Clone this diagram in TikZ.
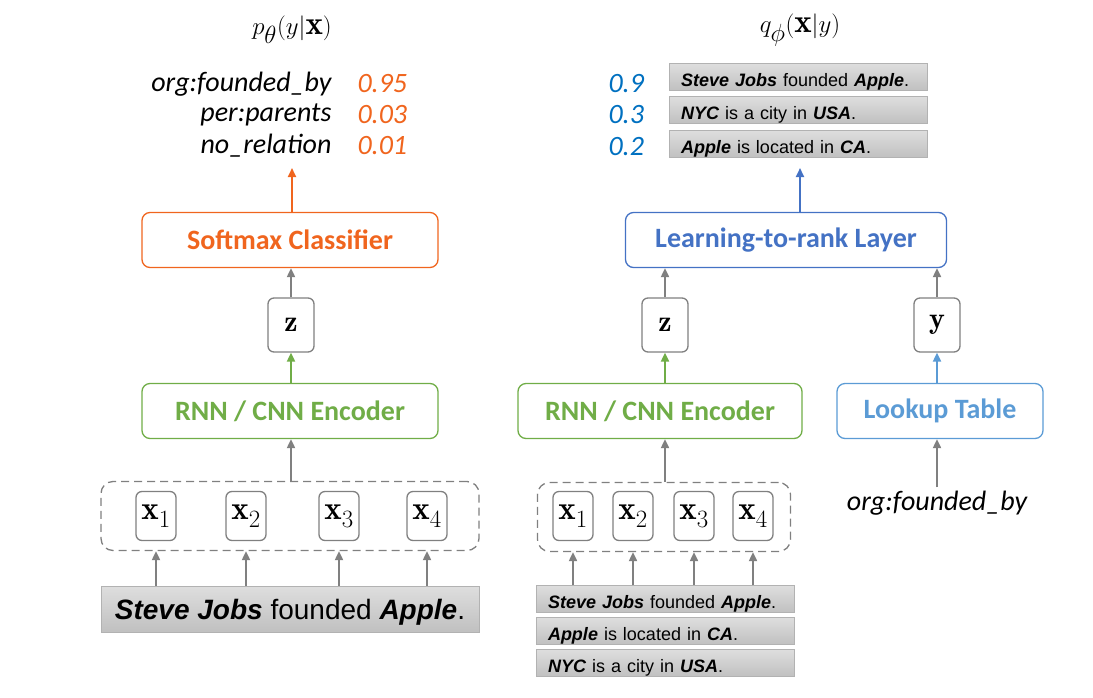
\documentclass[tikz,border=0pt]{standalone}
\usepackage{amsmath,amssymb}
\usepackage{fontspec}
\usepackage{xcolor}
\usepackage{tikz}
\usetikzlibrary{arrows.meta,positioning,calc}

\newfontfamily\calib{Carlito}
\newfontfamily\arialf{Liberation Sans}
\newcommand{\kw}[1]{\textbf{\textit{#1}}}

\definecolor{softorange}{RGB}{240,101,30}
\definecolor{encgreen}{RGB}{112,173,71}
\definecolor{rankblue}{RGB}{68,114,196}
\definecolor{lookblue}{RGB}{91,155,213}
\definecolor{scoreblue}{RGB}{0,112,192}
\definecolor{arrgray}{RGB}{128,128,128}
\definecolor{senttop}{RGB}{222,222,222}
\definecolor{sentbot}{RGB}{192,192,192}

\begin{document}
\begin{tikzpicture}[
  x=1pt, y=-1pt,
  box/.style={draw, rounded corners=8pt, line width=1.3pt, minimum height=55pt,
    font=\calib\bfseries\fontsize{28}{30}\selectfont},
  clsbox/.style={box, draw=softorange, text=softorange},
  encbox/.style={box, draw=encgreen, text=encgreen},
  rankbox/.style={box, draw=rankblue, text=rankblue},
  lookbox/.style={box, draw=lookblue, text=lookblue},
  vecbox/.style={draw=arrgray, rounded corners=6pt, line width=1.3pt, inner sep=0pt,
    minimum width=46pt, minimum height=54pt, font=\fontsize{30}{32}\selectfont},
  xbox/.style={vecbox, minimum width=40pt, minimum height=49pt, font=\fontsize{33}{35}\selectfont},
  group/.style={draw=arrgray, dash pattern=on 8pt off 5pt, line width=1.3pt,
    rounded corners=12pt, minimum height=69pt},
  sent/.style={draw=gray!60, line width=0.6pt, top color=senttop, bottom color=sentbot,
    inner sep=0pt},
  sentbig/.style={sent, minimum width=378pt, minimum height=46pt, text height=24pt,
    text depth=4pt, font=\arialf\fontsize{28}{30}\selectfont},
  sentsmall/.style={sent, minimum height=27pt, text width=234pt, inner xsep=12pt,
    text height=19pt, text depth=0pt, align=left, font=\arialf\fontsize{18}{20}\selectfont},
  lab/.style={font=\calib\itshape\fontsize{28}{30}\selectfont},
  oscore/.style={lab, text=softorange},
  bscore/.style={lab, text=scoreblue},
  title/.style={font=\fontsize{33}{35}\selectfont},
  garr/.style={draw=arrgray, line width=2pt, -{Triangle[length=9pt,width=8pt]}},
  oarr/.style={garr, draw=softorange, fill=softorange},
  grarr/.style={garr, draw=encgreen, fill=encgreen},
  barr/.style={garr, draw=rankblue, fill=rankblue},
  lbarr/.style={garr, draw=lookblue, fill=lookblue},
]
\useasboundingbox (0,0) rectangle (1093,697);

% Left: classifier p(y|x)
\node[title] (titleL) at (292,30) {$p_\theta(y|\mathbf{x})$};
\node[lab, anchor=east] (rel1) at (335,84) {org:founded\_by};
\node[lab, anchor=east] (rel2) at (335,115) {per:parents};
\node[lab, anchor=east] (rel3) at (335,146) {no\_relation};
\node[oscore, anchor=west] (p1) at (354,84) {0.95};
\node[oscore, anchor=west] (p2) at (354,115) {0.03};
\node[oscore, anchor=west] (p3) at (354,146) {0.01};
\coordinate (outL) at (292,168);

\node[clsbox, minimum width=296pt] (softmax) at (290,240) {Softmax Classifier};
\node[vecbox] (zL) at (291,325) {$\mathbf{z}$};
\node[encbox, minimum width=296pt] (encL) at (290,411) {RNN / CNN Encoder};
\node[group, minimum width=378pt] (inL) at (290,516) {};
\node[xbox] (xl1) at (156,516) {$\mathbf{x}_1$};
\node[xbox] (xl2) at (246,516) {$\mathbf{x}_2$};
\node[xbox] (xl3) at (339,516) {$\mathbf{x}_3$};
\node[xbox] (xl4) at (427,516) {$\mathbf{x}_4$};
\node[sentbig] (sentL) at (290,609) {\kw{Steve Jobs} founded \kw{Apple}.};

\foreach \i in {1,...,4}
  \draw[garr] (sentL.north -| xl\i) -- (inL.south -| xl\i);
\draw[garr] (inL.north -| zL) -- (encL.south -| zL);
\draw[grarr] (encL.north -| zL) -- (zL);
\draw[garr] (zL) -- (softmax.south -| zL);
\draw[oarr] (softmax.north -| outL) -- (outL);

% Right: ranker q(x|y)
\node[title] (titleR) at (800,30) {$q_\phi(\mathbf{x}|y)$};
\node[sentsmall] (r1) at (798,77) {\kw{Steve Jobs} founded \kw{Apple}.};
\node[sentsmall] (r2) at (798,110) {\kw{NYC} is a city in \kw{USA}.};
\node[sentsmall] (r3) at (798,144) {\kw{Apple} is located in \kw{CA}.};
\node[bscore, anchor=west] (q1) at (605,84) {0.9};
\node[bscore, anchor=west] (q2) at (605,115) {0.3};
\node[bscore, anchor=west] (q3) at (605,147) {0.2};
\coordinate (outR) at (800,168);

\node[rankbox, minimum width=321pt] (rank) at (786,240) {Learning-to-rank Layer};
\node[vecbox] (zR) at (665,325) {$\mathbf{z}$};
\node[vecbox] (yR) at (937,325) {$\mathbf{y}$};
\node[encbox, minimum width=284pt] (encR) at (660,411) {RNN / CNN Encoder};
\node[lookbox, minimum width=206pt] (lookup) at (940,411) {Lookup Table};
\node[lab] (rel0) at (937,503) {org:founded\_by};
\node[group, minimum width=253pt] (inR) at (664,517) {};
\node[xbox] (xr1) at (573,516) {$\mathbf{x}_1$};
\node[xbox] (xr2) at (633,516) {$\mathbf{x}_2$};
\node[xbox] (xr3) at (694,516) {$\mathbf{x}_3$};
\node[xbox] (xr4) at (753,516) {$\mathbf{x}_4$};
\node[sentsmall] (s1) at (665,599) {\kw{Steve Jobs} founded \kw{Apple}.};
\node[sentsmall] (s2) at (665,631) {\kw{Apple} is located in \kw{CA}.};
\node[sentsmall] (s3) at (665,663) {\kw{NYC} is a city in \kw{USA}.};

\foreach \i in {1,...,4}
  \draw[garr] (s1.north -| xr\i) -- (inR.south -| xr\i);
\draw[garr] (inR.north -| zR) -- (encR.south -| zR);
\draw[grarr] (encR.north -| zR) -- (zR);
\draw[garr] (zR) -- (rank.south -| zR);
\draw[garr] (rel0) -- (lookup.south -| rel0);
\draw[lbarr] (lookup.north -| yR) -- (yR);
\draw[garr] (yR) -- (rank.south -| yR);
\draw[barr] (rank.north -| outR) -- (outR);

\end{tikzpicture}
\end{document}
